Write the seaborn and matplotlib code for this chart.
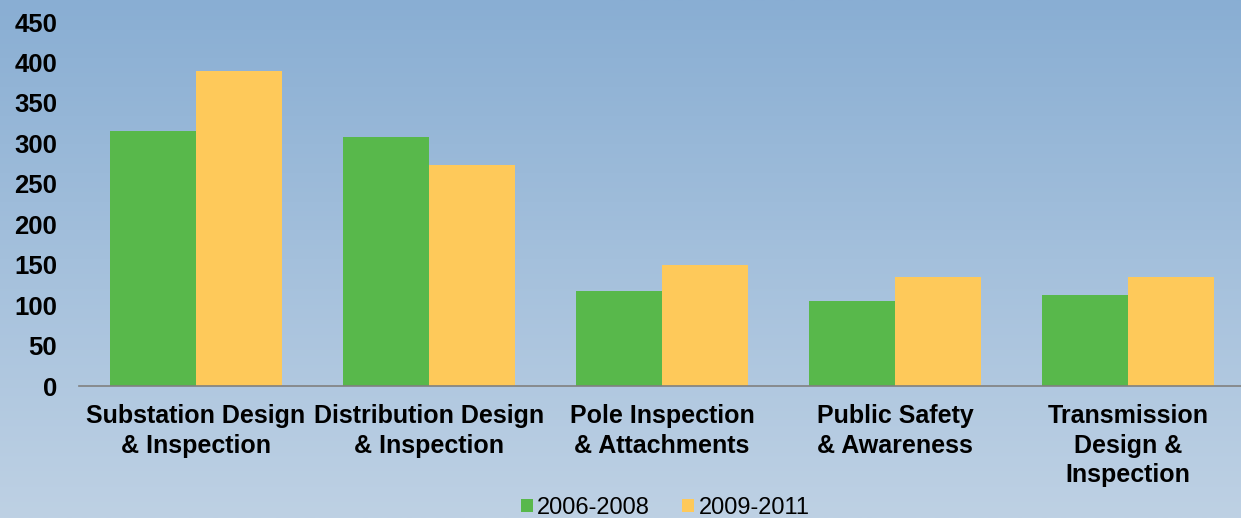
import numpy as np
import pandas as pd
import matplotlib
matplotlib.use('Agg')
import matplotlib.pyplot as plt
import seaborn as sns
from matplotlib.colors import LinearSegmentedColormap

# Data
categories = ['Substation Design\n& Inspection', 'Distribution Design\n& Inspection',
              'Pole Inspection\n& Attachments', 'Public Safety\n& Awareness',
              'Transmission\nDesign &\nInspection']
period_a = [315, 308, 117, 105, 112]
period_b = [390, 273, 150, 135, 135]
series_names = ['2006-2008', '2009-2011']
yticks = [0, 50, 100, 150, 200, 250, 300, 350, 400, 450]

df = pd.DataFrame({
    'category': categories * 2,
    'value': period_a + period_b,
    'period': [series_names[0]] * 5 + [series_names[1]] * 5,
})

sns.set_style('white')
plt.rcParams['font.family'] = ['Liberation Sans', 'DejaVu Sans']
plt.rcParams['text.color'] = 'black'

fig = plt.figure(figsize=(12.41, 5.18), dpi=100)

# gradient background
bg = fig.add_axes([0, 0, 1, 1], zorder=0)
cmap = LinearSegmentedColormap.from_list('bg', ['#89aed3', '#a4c0dc', '#bed1e4'])
bg.imshow(np.linspace(0, 1, 256).reshape(-1, 1), aspect='auto', cmap=cmap, extent=[0, 1, 0, 1])
bg.axis('off')

ax = fig.add_axes([0.064, 0.2548, 0.939, 0.7027], zorder=1)
ax.patch.set_alpha(0)
sns.barplot(data=df, x='category', y='value', hue='period',
            palette=['#58b84b', '#fec95a'], width=0.74, saturation=1,
            gap=0, linewidth=0, ax=ax)

ax.set_ylim(0, 450)
ax.set_xlim(-0.5, 4.5)
ax.set_yticks(yticks)
ax.set_xlabel('')
ax.set_ylabel('')
for s in ['top', 'right', 'left']:
    ax.spines[s].set_visible(False)
ax.spines['bottom'].set_color('#808080')
ax.spines['bottom'].set_linewidth(1.2)
ax.tick_params(axis='y', length=0, pad=16, labelsize=18.5)
ax.tick_params(axis='x', length=0, pad=13, labelsize=18)
for lbl in ax.get_yticklabels() + ax.get_xticklabels():
    lbl.set_fontweight('bold')
    lbl.set_color('black')
for lbl in ax.get_xticklabels():
    lbl.set_linespacing(1.3)

ax.legend_.remove()
handles, labels = ax.get_legend_handles_labels()
leg = fig.legend(handles, labels, loc='center', bbox_to_anchor=(0.536, 0.02), ncol=2,
                 frameon=False, fontsize=17, handlelength=0.5, handleheight=0.5,
                 handletextpad=0.2, columnspacing=1.35, borderaxespad=0)
for t in leg.get_texts():
    t.set_color('black')

fig.savefig('out.png', dpi=100)
